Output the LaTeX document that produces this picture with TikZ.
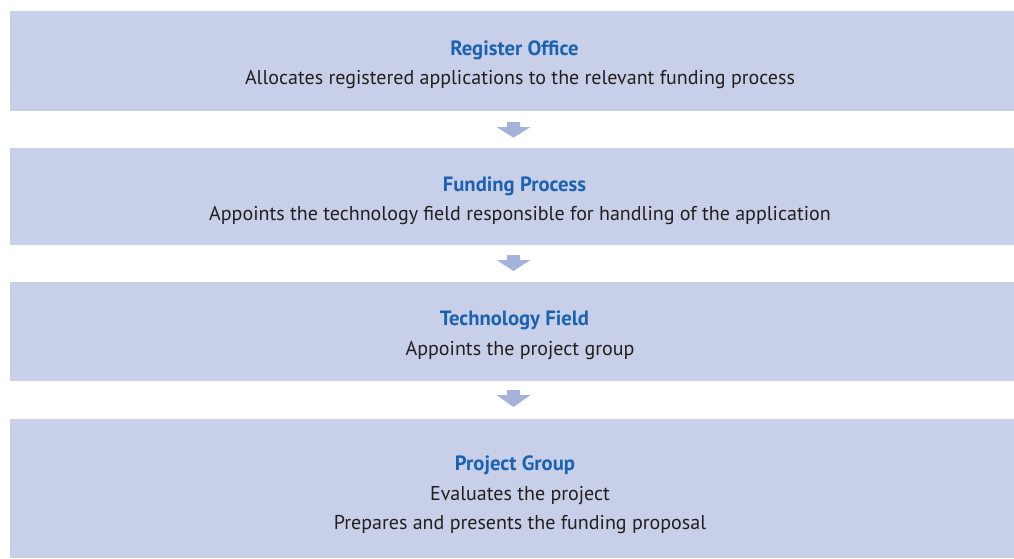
\documentclass[tikz,border=0pt]{standalone}
\usepackage{fontspec}
\setmainfont{PT Sans}
\definecolor{boxfill}{HTML}{C8CFE8}
\definecolor{arrfill}{HTML}{A5B3DC}
\definecolor{titleblue}{HTML}{1B63B0}
\definecolor{bodytext}{HTML}{231F20}
\tikzset{
  box/.style={fill=boxfill, draw=none, anchor=north west, inner sep=0pt},
  ttl/.style={font=\fontsize{15.5}{17}\selectfont\bfseries, text=titleblue, inner sep=0pt, anchor=base},
  txt/.style={font=\fontsize{15}{17}\selectfont, text=bodytext, inner sep=0pt, anchor=base},
  blockarrow/.style={fill=arrfill, draw=none}
}
\newcommand{\downarrowshape}[2]{%
  \fill[blockarrow] (#1) ++(-6.5,0) -- ++(13,0) -- ++(0,5) -- ++(10.5,0) -- ++(-17,#2) -- ++(-17,-#2) -- ++(10.5,0) -- cycle;}
\begin{document}
\begin{tikzpicture}[x=0.75pt,y=-0.75pt]
\useasboundingbox (0,0) rectangle (1014,558);
\node[box, minimum width=1004*0.75pt, minimum height=99.5*0.75pt] (b1) at (10,11) {};
\node[box, minimum width=1004*0.75pt, minimum height=96.5*0.75pt] (b2) at (10,148) {};
\node[box, minimum width=1004*0.75pt, minimum height=99*0.75pt] (b3) at (10,282) {};
\node[box, minimum width=1004*0.75pt, minimum height=139*0.75pt] (b4) at (10,419) {};
\node[ttl] (t1) at (514.5,55) {Register Office};
\node[txt] (d1) at (520,84) {Allocates registered applications to the relevant funding process};
\node[ttl] (t2) at (514.5,191) {Funding Process};
\node[txt] (d2) at (520,220) {Appoints the technology field responsible for handling of the application};
\node[ttl] (t3) at (514.5,325) {Technology Field};
\node[txt] (d3) at (520,355) {Appoints the project group};
\node[ttl] (t4) at (515,470) {Project Group};
\node[txt] (d4) at (520,500) {Evaluates the project};
\node[txt] (e4) at (520,529) {Prepares and presents the funding proposal};
\coordinate (a1) at (513.5,122);
\coordinate (a2) at (513.5,255);
\coordinate (a3) at (513.5,390);
\downarrowshape{a1}{10.7}
\downarrowshape{a2}{11}
\downarrowshape{a3}{12}
\end{tikzpicture}
\end{document}
